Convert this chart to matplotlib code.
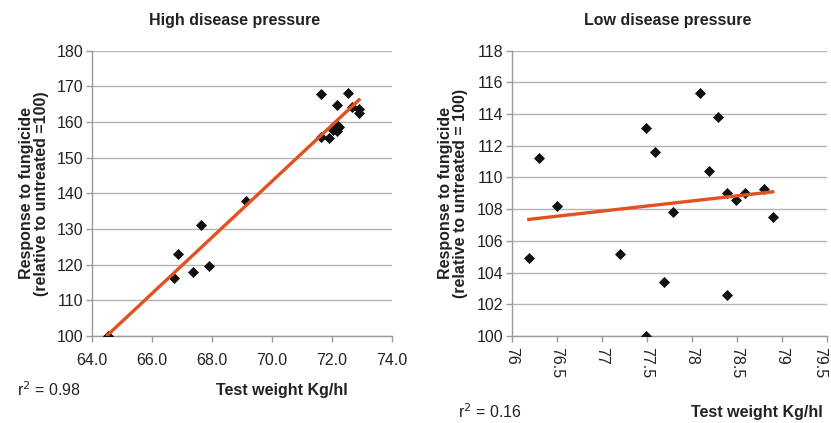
import matplotlib
matplotlib.use("Agg")
import matplotlib.pyplot as plt
import numpy as np

plt.rcParams['font.family'] = ['Liberation Sans', 'DejaVu Sans']

# High disease pressure
high_x = [64.52, 66.74, 66.86, 67.38, 67.63, 67.89, 69.14, 71.64, 72.52, 72.15,
          72.66, 72.90, 72.90, 71.64, 71.91, 72.08, 72.16, 72.24, 72.16, 72.04]
high_y = [100.0, 116.3, 123.0, 118.0, 131.2, 119.5, 137.9, 167.8, 168.0, 164.8,
          164.3, 163.6, 162.4, 155.7, 155.4, 158.9, 159.2, 158.5, 157.6, 157.9]

# Low disease pressure
low_x = [76.19, 76.30, 76.50, 77.20, 77.49, 77.49, 77.59, 77.69, 77.79, 78.09,
         78.19, 78.29, 78.39, 78.39, 78.49, 78.59, 78.80, 78.90]
low_y = [104.9, 111.25, 108.2, 105.2, 100.0, 113.1, 111.6, 103.4, 107.8, 115.35,
         110.4, 113.8, 109.0, 102.6, 108.6, 109.0, 109.3, 107.5]

high_xticks = [64, 66, 68, 70, 72, 74]
high_yticks = [100, 110, 120, 130, 140, 150, 160, 170, 180]
low_xticks = [76, 76.5, 77, 77.5, 78, 78.5, 79, 79.5]
low_xticklabels = ["76", "76.5", "77", "77.5", "78", "78.5", "79", "79.5"]
low_yticks = [100, 102, 104, 106, 108, 110, 112, 114, 116, 118]

titles = ["High disease pressure", "Low disease pressure"]
ylabels = ["Response to fungicide\n(relative to untreated =100)",
           "Response to fungicide\n(relative to untreated = 100)"]
xlabel = "Test weight Kg/hl"
r2_labels = ["r$^2$ = 0.98", "r$^2$ = 0.16"]

W, H = 831, 423
fig = plt.figure(figsize=(W / 100, H / 100), dpi=100)

def px_axes(l, t, r, b):
    return fig.add_axes([l / W, 1 - b / H, (r - l) / W, (b - t) / H])

GRID = '#b4b4b4'
AXC = '#9a9a9a'
LINE = '#e2511f'
FS = 11.5

def style(ax):
    for s in ['top', 'right']:
        ax.spines[s].set_visible(False)
    for s in ['left', 'bottom']:
        ax.spines[s].set_color(AXC)
        ax.spines[s].set_linewidth(1.0)
    ax.yaxis.grid(True, color=GRID, linewidth=1.0)
    ax.set_axisbelow(True)
    ax.tick_params(axis='both', colors=AXC, labelcolor='#222222', length=4,
                   width=1.0, labelsize=FS)

# Left
ax1 = px_axes(92, 50.7, 392, 336)
style(ax1)
ax1.scatter(high_x, high_y, marker='D', s=32, color='#111111', zorder=3, linewidths=0)
c1 = np.polyfit(high_x, high_y, 1)
xs = np.array([min(high_x), max(high_x)])
ax1.plot(xs, np.polyval(c1, xs), color=LINE, linewidth=2.4, zorder=4)
ax1.set_xlim(64, 74)
ax1.set_ylim(100, 180)
ax1.set_xticks(high_xticks)
ax1.set_xticklabels([f"{v:.1f}" for v in high_xticks])
ax1.set_yticks(high_yticks)
ax1.tick_params(axis='x', pad=8)
ax1.tick_params(axis='y', pad=2)
ax1.set_ylabel(ylabels[0], fontsize=FS, fontweight='bold', color='#222222',
               labelpad=6, linespacing=1.0)
fig.text(235 / W, 1 - 21 / H, titles[0], ha='center', va='center',
         fontsize=FS, fontweight='bold', color='#222222')
fig.text(282 / W, 1 - 390 / H, xlabel, ha='center', va='center',
         fontsize=FS, fontweight='bold', color='#222222')
fig.text(17 / W, 1 - 390 / H, r2_labels[0], ha='left', va='center',
         fontsize=FS, color='#222222')

# Right
ax2 = px_axes(511.7, 50.7, 826.7, 336)
style(ax2)
ax2.scatter(low_x, low_y, marker='D', s=32, color='#111111', zorder=3, linewidths=0)
c2 = np.polyfit(low_x, low_y, 1)
xs2 = np.array([min(low_x), max(low_x)])
ax2.plot(xs2, np.polyval(c2, xs2), color=LINE, linewidth=2.4, zorder=4)
ax2.set_xlim(76, 79.5)
ax2.set_ylim(100, 118)
ax2.set_xticks(low_xticks)
ax2.set_xticklabels(low_xticklabels, rotation=-90)
ax2.get_xticklabels()[-1].set_horizontalalignment('right')
ax2.set_yticks(low_yticks)
ax2.tick_params(axis='x', pad=4)
ax2.tick_params(axis='y', pad=2)
ax2.set_ylabel(ylabels[1], fontsize=FS, fontweight='bold', color='#222222',
               labelpad=6, linespacing=1.0)
fig.text(668 / W, 1 - 21 / H, titles[1], ha='center', va='center',
         fontsize=FS, fontweight='bold', color='#222222')
fig.text(823 / W, 1 - 412 / H, xlabel, ha='right', va='center',
         fontsize=FS, fontweight='bold', color='#222222')
fig.text(458 / W, 1 - 412 / H, r2_labels[1], ha='left', va='center',
         fontsize=FS, color='#222222')

fig.savefig("out.png", dpi=100)
